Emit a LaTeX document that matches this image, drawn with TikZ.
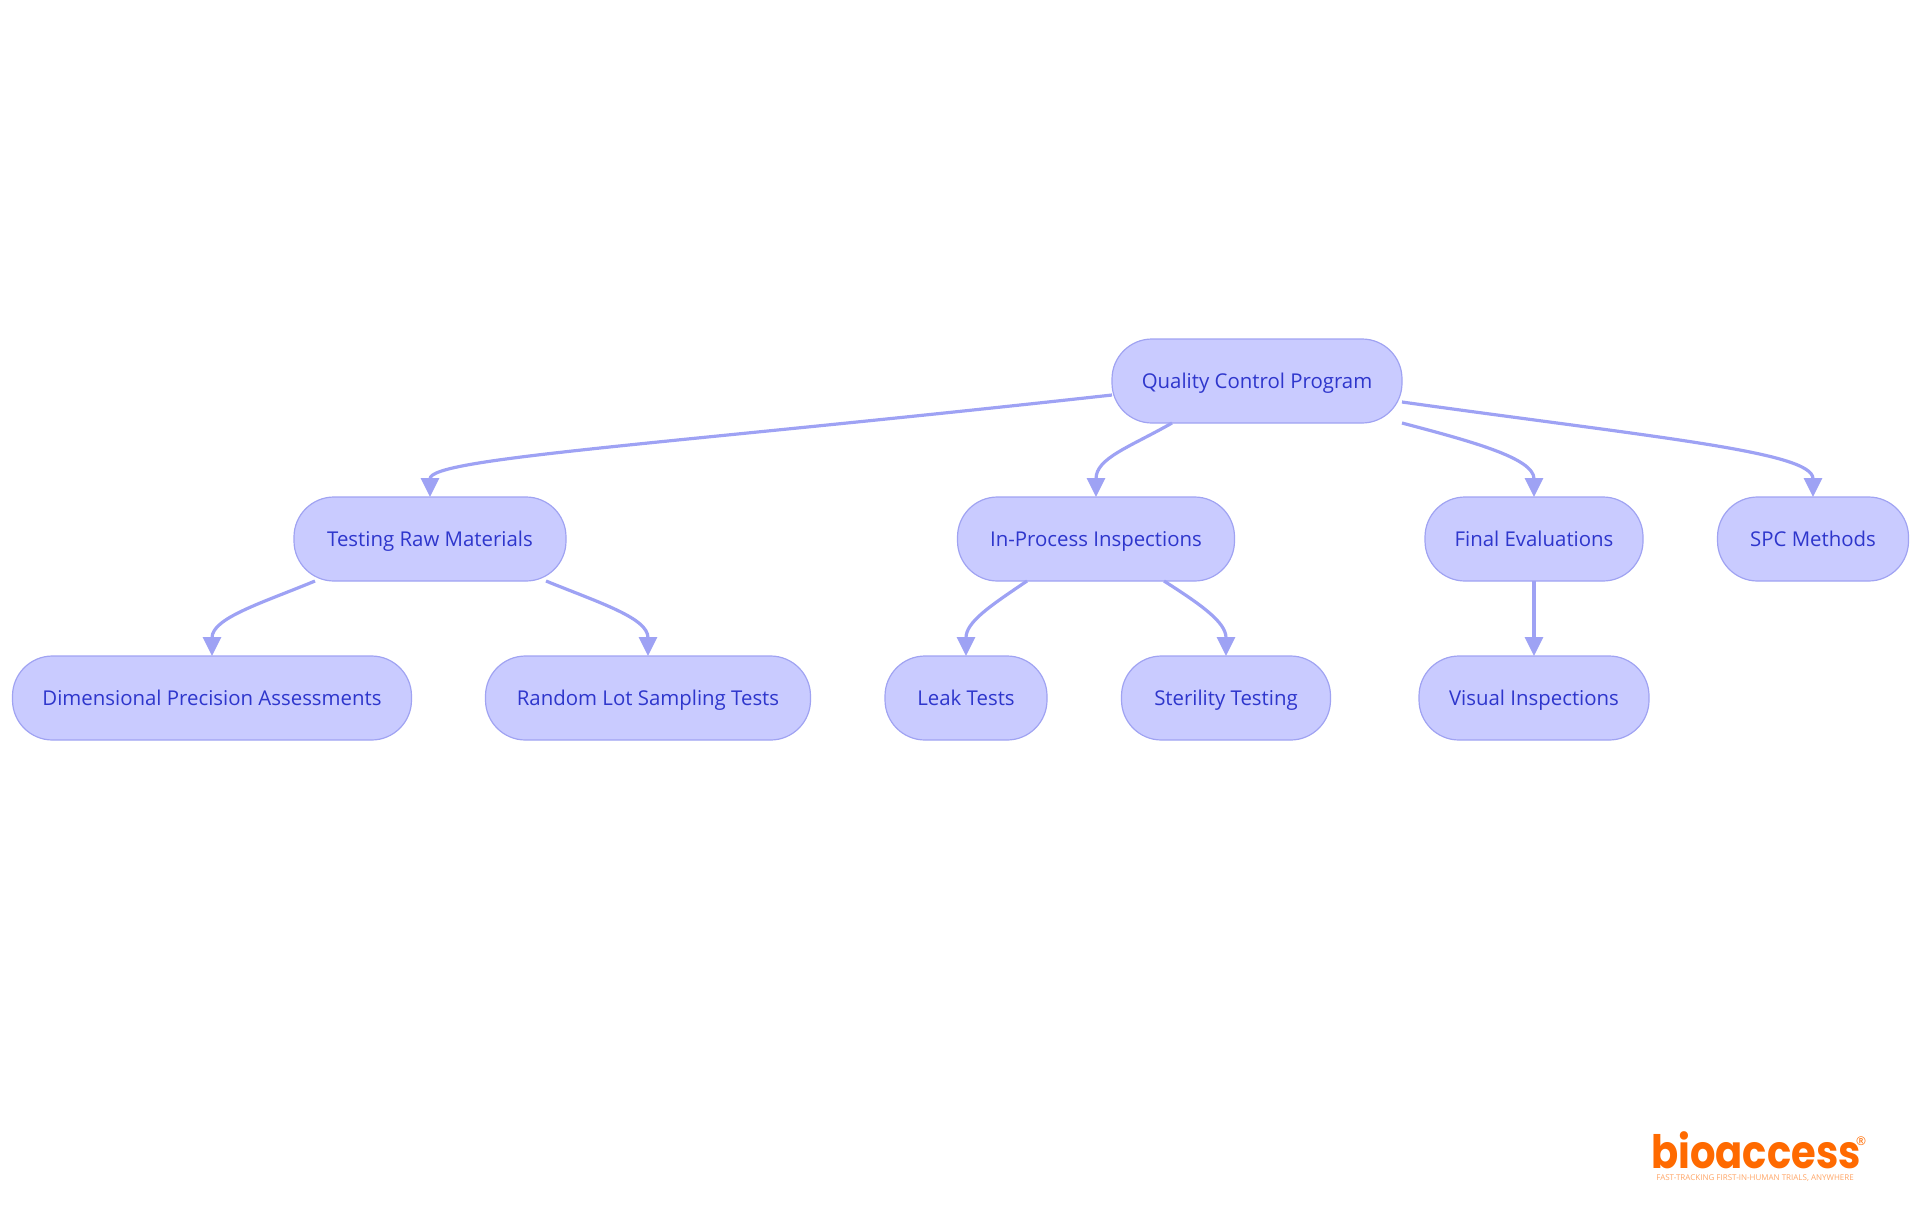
\documentclass[tikz,border=0pt]{standalone}
\usepackage{fontspec}
\setmainfont{Open Sans}
\newfontfamily\logofont{Poppins}[FakeStretch=0.87]
\usepackage{tikz}
\usetikzlibrary{calc, arrows.meta}

\definecolor{pillfill}{HTML}{C9CBFF}
\definecolor{pillline}{HTML}{A0A3F2}
\definecolor{pilltext}{HTML}{2E36CC}
\definecolor{linkcol}{HTML}{9EA2F4}
\definecolor{logocol}{HTML}{FF6A00}

\tikzset{
    pill/.style={draw=pillline, fill=pillfill, text=pilltext, line width=0.6pt, rounded corners=20pt,
        minimum height=42pt, inner sep=0pt, outer sep=0pt, text height=8.5pt, text depth=1.5pt,
        font=\fontsize{10.2}{12}\selectfont},
    link/.style={draw=linkcol, line width=1.6pt, ->, >={Triangle[length=9.5pt, width=9pt]}}
}

\begin{document}
\begin{tikzpicture}[x=0.5pt, y=-0.5pt]
    \useasboundingbox (0,0) rectangle (1920,1215);

    % Nodes
    \node[pill, minimum width=145pt] (root) at (1257,381) {Quality Control Program};
    \node[pill, minimum width=136pt] (testing) at (430,539) {Testing Raw Materials};
    \node[pill, minimum width=138.5pt] (inprocess) at (1096,539) {In-Process Inspections};
    \node[pill, minimum width=109pt] (final) at (1534,539) {Final Evaluations};
    \node[pill, minimum width=95.5pt] (spc) at (1813,539) {SPC Methods};
    \node[pill, minimum width=199.5pt] (dimensional) at (212,698) {Dimensional Precision Assessments};
    \node[pill, minimum width=162.5pt] (random) at (648,698) {Random Lot Sampling Tests};
    \node[pill, minimum width=81pt] (leak) at (966,698) {Leak Tests};
    \node[pill, minimum width=104.5pt] (sterility) at (1226,698) {Sterility Testing};
    \node[pill, minimum width=115pt] (visual) at (1534,698) {Visual Inspections};

    % Links from the top
    \draw[link] ([yshift=-7pt]root.west) .. controls (660,445) and (430,458) .. (testing.north);
    \draw[link] ([xshift=-42.5pt]root.south) .. controls (1130,447) and (1096,458) .. (inprocess.north);
    \draw[link] (root.south east) .. controls (1470,441) and (1534,458) .. (final.north);
    \draw[link] ([yshift=-10.5pt]root.east) .. controls (1660,438) and (1813,452) .. (spc.north);

    % Links to the last row
    \draw[link] ([xshift=-57.5pt]testing.south) .. controls (262,603) and (212,618) .. (dimensional.north);
    \draw[link] ([xshift=58pt]testing.south) .. controls (600,603) and (648,618) .. (random.north);
    \draw[link] ([xshift=-34.5pt]inprocess.south) .. controls (990,606) and (966,622) .. (leak.north);
    \draw[link] ([xshift=34pt]inprocess.south) .. controls (1200,604) and (1226,622) .. (sterility.north);
    \draw[link] (final) -- (visual);

    % Logo
    \node[text=logocol, inner sep=0pt, font=\logofont\bfseries\fontsize{23}{23}\selectfont] (logo) at (1756,1150) {bioaccess};
    \node[text=logocol, inner sep=0pt, font=\fontsize{6}{6}\selectfont] (reg) at (1861,1141) {\textregistered};
    \node[text=logocol!60, inner sep=0pt, font=\fontsize{4}{4}\selectfont] (tagline) at (1755,1178) {FAST-TRACKING FIRST-IN-HUMAN TRIALS, ANYWHERE};
\end{tikzpicture}
\end{document}
